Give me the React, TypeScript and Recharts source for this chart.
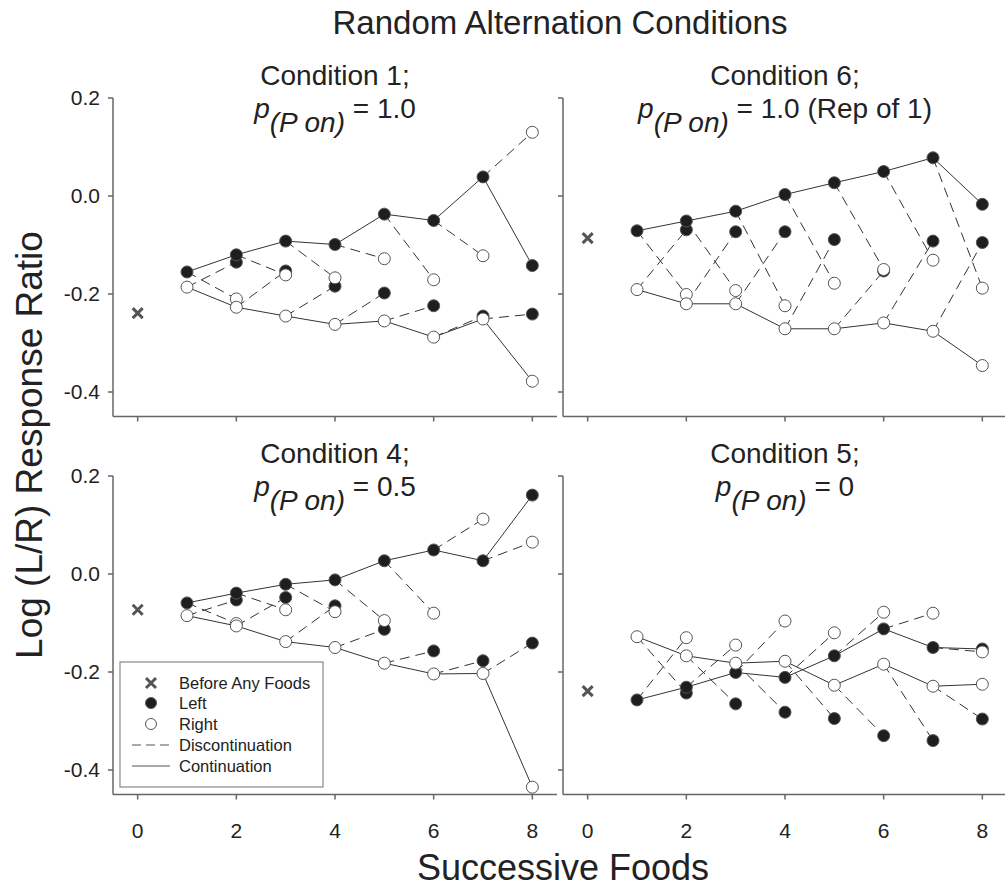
import React from "react";
import { ComposedChart, Line, Scatter, XAxis, YAxis } from "recharts";

// successive foods (x) and axis ticks
const foods = [1, 2, 3, 4, 5, 6, 7, 8];
const xTicks = [0, 2, 4, 6, 8];
const yTicks = [0.2, 0, -0.2, -0.4];

// Condition 1; p = 1.0
const cond1Before = -0.239;
const cond1Left = [-0.155, -0.12, -0.092, -0.099, -0.037, -0.05, 0.039, -0.142];
const cond1Right = [-0.186, -0.227, -0.245, -0.262, -0.255, -0.288, -0.251, -0.378];
const cond1LeftDisc = [-0.135, -0.153, -0.184, -0.198, -0.224, -0.245, -0.241];
const cond1RightDisc = [-0.21, -0.161, -0.167, -0.128, -0.171, -0.122, 0.13];

// Condition 6; p = 1.0 (Rep of 1)
const cond6Before = -0.086;
const cond6Left = [-0.071, -0.051, -0.031, 0.003, 0.027, 0.05, 0.078, -0.017];
const cond6Right = [-0.191, -0.22, -0.22, -0.271, -0.271, -0.259, -0.276, -0.346];
const cond6LeftDisc = [-0.069, -0.073, -0.073, -0.089, -0.153, -0.092, -0.095];
const cond6RightDisc = [-0.201, -0.193, -0.224, -0.178, -0.15, -0.131, -0.188];

// Condition 4; p = 0.5
const cond4Before = -0.073;
const cond4Left = [-0.059, -0.039, -0.021, -0.012, 0.027, 0.049, 0.027, 0.161];
const cond4Right = [-0.085, -0.106, -0.138, -0.15, -0.182, -0.204, -0.203, -0.435];
const cond4LeftDisc = [-0.053, -0.048, -0.065, -0.113, -0.157, -0.177, -0.141];
const cond4RightDisc = [-0.101, -0.073, -0.077, -0.095, -0.08, 0.112, 0.065];

// Condition 5; p = 0
const cond5Before = -0.239;
const cond5Left = [-0.257, -0.231, -0.201, -0.211, -0.167, -0.112, -0.15, -0.153];
const cond5Right = [-0.128, -0.167, -0.182, -0.178, -0.227, -0.184, -0.229, -0.225];
const cond5LeftDisc = [-0.243, -0.265, -0.282, -0.295, -0.33, -0.34, -0.296];
const cond5RightDisc = [-0.13, -0.145, -0.096, -0.12, -0.078, -0.08, -0.159];

const FONT = "'Liberation Sans', Arial, Helvetica, sans-serif";
const W = 1010;
const H = 888;
const PW = 444;
const PH = 318.5;
const AXIS = "#666";

type Pt = { x: number; y: number };

const chainPts = (vals: number[]): Pt[] => vals.map((y, i) => ({ x: foods[i], y }));
const discPts = (vals: number[]): Pt[] => vals.map((y, i) => ({ x: foods[i + 1], y }));

const FilledDot = (p: any) => (
  <circle cx={p.cx} cy={p.cy} r={6} fill="#1e1e1e" stroke="#555" strokeWidth={1} />
);
const OpenDot = (p: any) => (
  <circle cx={p.cx} cy={p.cy} r={6} fill="#fff" stroke="#555" strokeWidth={1} />
);
const Cross = (p: any) => {
  const s = 5;
  return (
    <path
      d={`M${p.cx - s},${p.cy - s}L${p.cx + s},${p.cy + s}M${p.cx - s},${p.cy + s}L${p.cx + s},${p.cy - s}`}
      stroke="#555"
      strokeWidth={3}
      fill="none"
    />
  );
};

type PanelProps = {
  left: number;
  top: number;
  before: number;
  lefts: number[];
  rights: number[];
  leftDisc: number[];
  rightDisc: number[];
  yLabels: boolean;
  xLabels: boolean;
};

const Panel = ({ left, top, before, lefts, rights, leftDisc, rightDisc, yLabels, xLabels }: PanelProps) => {
  const L = chainPts(lefts);
  const R = chainPts(rights);
  const LD = discPts(leftDisc);
  const RD = discPts(rightDisc);
  const dashed: Pt[][] = [];
  for (let i = 0; i < 7; i++) {
    dashed.push([L[i], RD[i]]);
    dashed.push([R[i], LD[i]]);
  }
  return (
    <div style={{ position: "absolute", left: 0, top: 0 }}>
      <ComposedChart
        width={W}
        height={H}
        margin={{ left: left - 60, top, right: W - left - PW, bottom: H - top - PH - 60 }}
      >
        <XAxis
          type="number"
          dataKey="x"
          domain={[-0.5, 8.5]}
          ticks={xTicks}
          allowDataOverflow
          height={60}
          stroke={AXIS}
          axisLine={{ stroke: AXIS, strokeWidth: 1.5 }}
          tickLine={{ stroke: AXIS, strokeWidth: 1.5 }}
          tickSize={5}
          tickMargin={24}
          tick={{ fill: "#222", fontSize: 21, fontFamily: FONT }}
          tickFormatter={(v: number) => (xLabels ? String(v) : "")}
        />
        <YAxis
          type="number"
          dataKey="y"
          domain={[-0.45, 0.2]}
          ticks={yTicks}
          allowDataOverflow
          width={60}
          stroke={AXIS}
          axisLine={{ stroke: AXIS, strokeWidth: 1.5 }}
          tickLine={{ stroke: AXIS, strokeWidth: 1.5 }}
          tickSize={5}
          tickMargin={8}
          tick={{ fill: "#222", fontSize: 21, fontFamily: FONT }}
          tickFormatter={(v: number) => (yLabels ? v.toFixed(1) : "")}
        />
        {dashed.map((seg, i) => (
          <Line
            key={"d" + i}
            data={seg}
            dataKey="y"
            stroke="#333"
            strokeWidth={1}
            strokeDasharray="10 6"
            dot={false}
            activeDot={false}
            isAnimationActive={false}
          />
        ))}
        <Line data={L} dataKey="y" stroke="#333" strokeWidth={1} dot={false} activeDot={false} isAnimationActive={false} />
        <Line data={R} dataKey="y" stroke="#333" strokeWidth={1} dot={false} activeDot={false} isAnimationActive={false} />
        <Scatter data={[...LD, ...L]} dataKey="y" shape={FilledDot} isAnimationActive={false} />
        <Scatter data={[...RD, ...R]} dataKey="y" shape={OpenDot} isAnimationActive={false} />
        <Scatter data={[{ x: 0, y: before }]} dataKey="y" shape={Cross} isAnimationActive={false} />
      </ComposedChart>
    </div>
  );
};

const PanelTitle = ({ cx, y, cond, p }: { cx: number; y: number; cond: string; p: string }) => (
  <g>
    <text x={cx} y={y} textAnchor="middle" fontSize={28}>
      {cond}
    </text>
    <text x={cx} y={y + 33} textAnchor="middle" fontSize={28}>
      <tspan fontStyle="italic">p</tspan>
      <tspan fontStyle="italic" dy={14}>
        (P on)
      </tspan>
      <tspan dy={-14}>{" = " + p}</tspan>
    </text>
  </g>
);

const legendRows = ["Before Any Foods", "Left", "Right", "Discontinuation", "Continuation"];

const Overlay = () => {
  const ly = [683, 703, 724, 745, 766];
  return (
    <svg
      width={1005}
      height={888}
      style={{ position: "absolute", left: 0, top: 0, pointerEvents: "none" }}
      fontFamily={FONT}
      fill="#222"
    >
      <text x={560} y={34} textAnchor="middle" fontSize={33}>
        Random Alternation Conditions
      </text>
      <PanelTitle cx={335} y={85} cond="Condition 1;" p="1.0" />
      <PanelTitle cx={785} y={85} cond="Condition 6;" p="1.0 (Rep of 1)" />
      <PanelTitle cx={335} y={463} cond="Condition 4;" p="0.5" />
      <PanelTitle cx={785} y={463} cond="Condition 5;" p="0" />
      <text x={0} y={0} transform="translate(42,445) rotate(-90)" textAnchor="middle" fontSize={37}>
        Log (L/R) Response Ratio
      </text>
      <text x={563} y={880} textAnchor="middle" fontSize={36}>
        Successive Foods
      </text>
      <rect x={120} y={662} width={203} height={125} fill="#fff" stroke="#888" strokeWidth={1.2} />
      <path d={`M146,${ly[0] - 5}L156,${ly[0] + 5}M146,${ly[0] + 5}L156,${ly[0] - 5}`} stroke="#555" strokeWidth={3} />
      <circle cx={151} cy={ly[1]} r={5.5} fill="#1e1e1e" stroke="#555" />
      <circle cx={151} cy={ly[2]} r={5.5} fill="#fff" stroke="#555" />
      <line x1={132} y1={ly[3]} x2={170} y2={ly[3]} stroke="#555" strokeWidth={1} strokeDasharray="9 5" />
      <line x1={132} y1={ly[4]} x2={170} y2={ly[4]} stroke="#555" strokeWidth={1} />
      {legendRows.map((t, i) => (
        <text key={t} x={179} y={ly[i] + 6} fontSize={16.5}>
          {t}
        </text>
      ))}
    </svg>
  );
};

export default function App() {
  return (
    <div
      style={{
        position: "absolute",
        left: 0,
        top: 0,
        width: 1005,
        height: 888,
        overflow: "hidden",
        background: "#fff",
        fontFamily: FONT,
      }}
    >
      <Panel left={113} top={98} before={cond1Before} lefts={cond1Left} rights={cond1Right}
        leftDisc={cond1LeftDisc} rightDisc={cond1RightDisc} yLabels xLabels={false} />
      <Panel left={563} top={98} before={cond6Before} lefts={cond6Left} rights={cond6Right}
        leftDisc={cond6LeftDisc} rightDisc={cond6RightDisc} yLabels={false} xLabels={false} />
      <Panel left={113} top={476} before={cond4Before} lefts={cond4Left} rights={cond4Right}
        leftDisc={cond4LeftDisc} rightDisc={cond4RightDisc} yLabels xLabels />
      <Panel left={563} top={476} before={cond5Before} lefts={cond5Left} rights={cond5Right}
        leftDisc={cond5LeftDisc} rightDisc={cond5RightDisc} yLabels={false} xLabels />
      <Overlay />
    </div>
  );
}
